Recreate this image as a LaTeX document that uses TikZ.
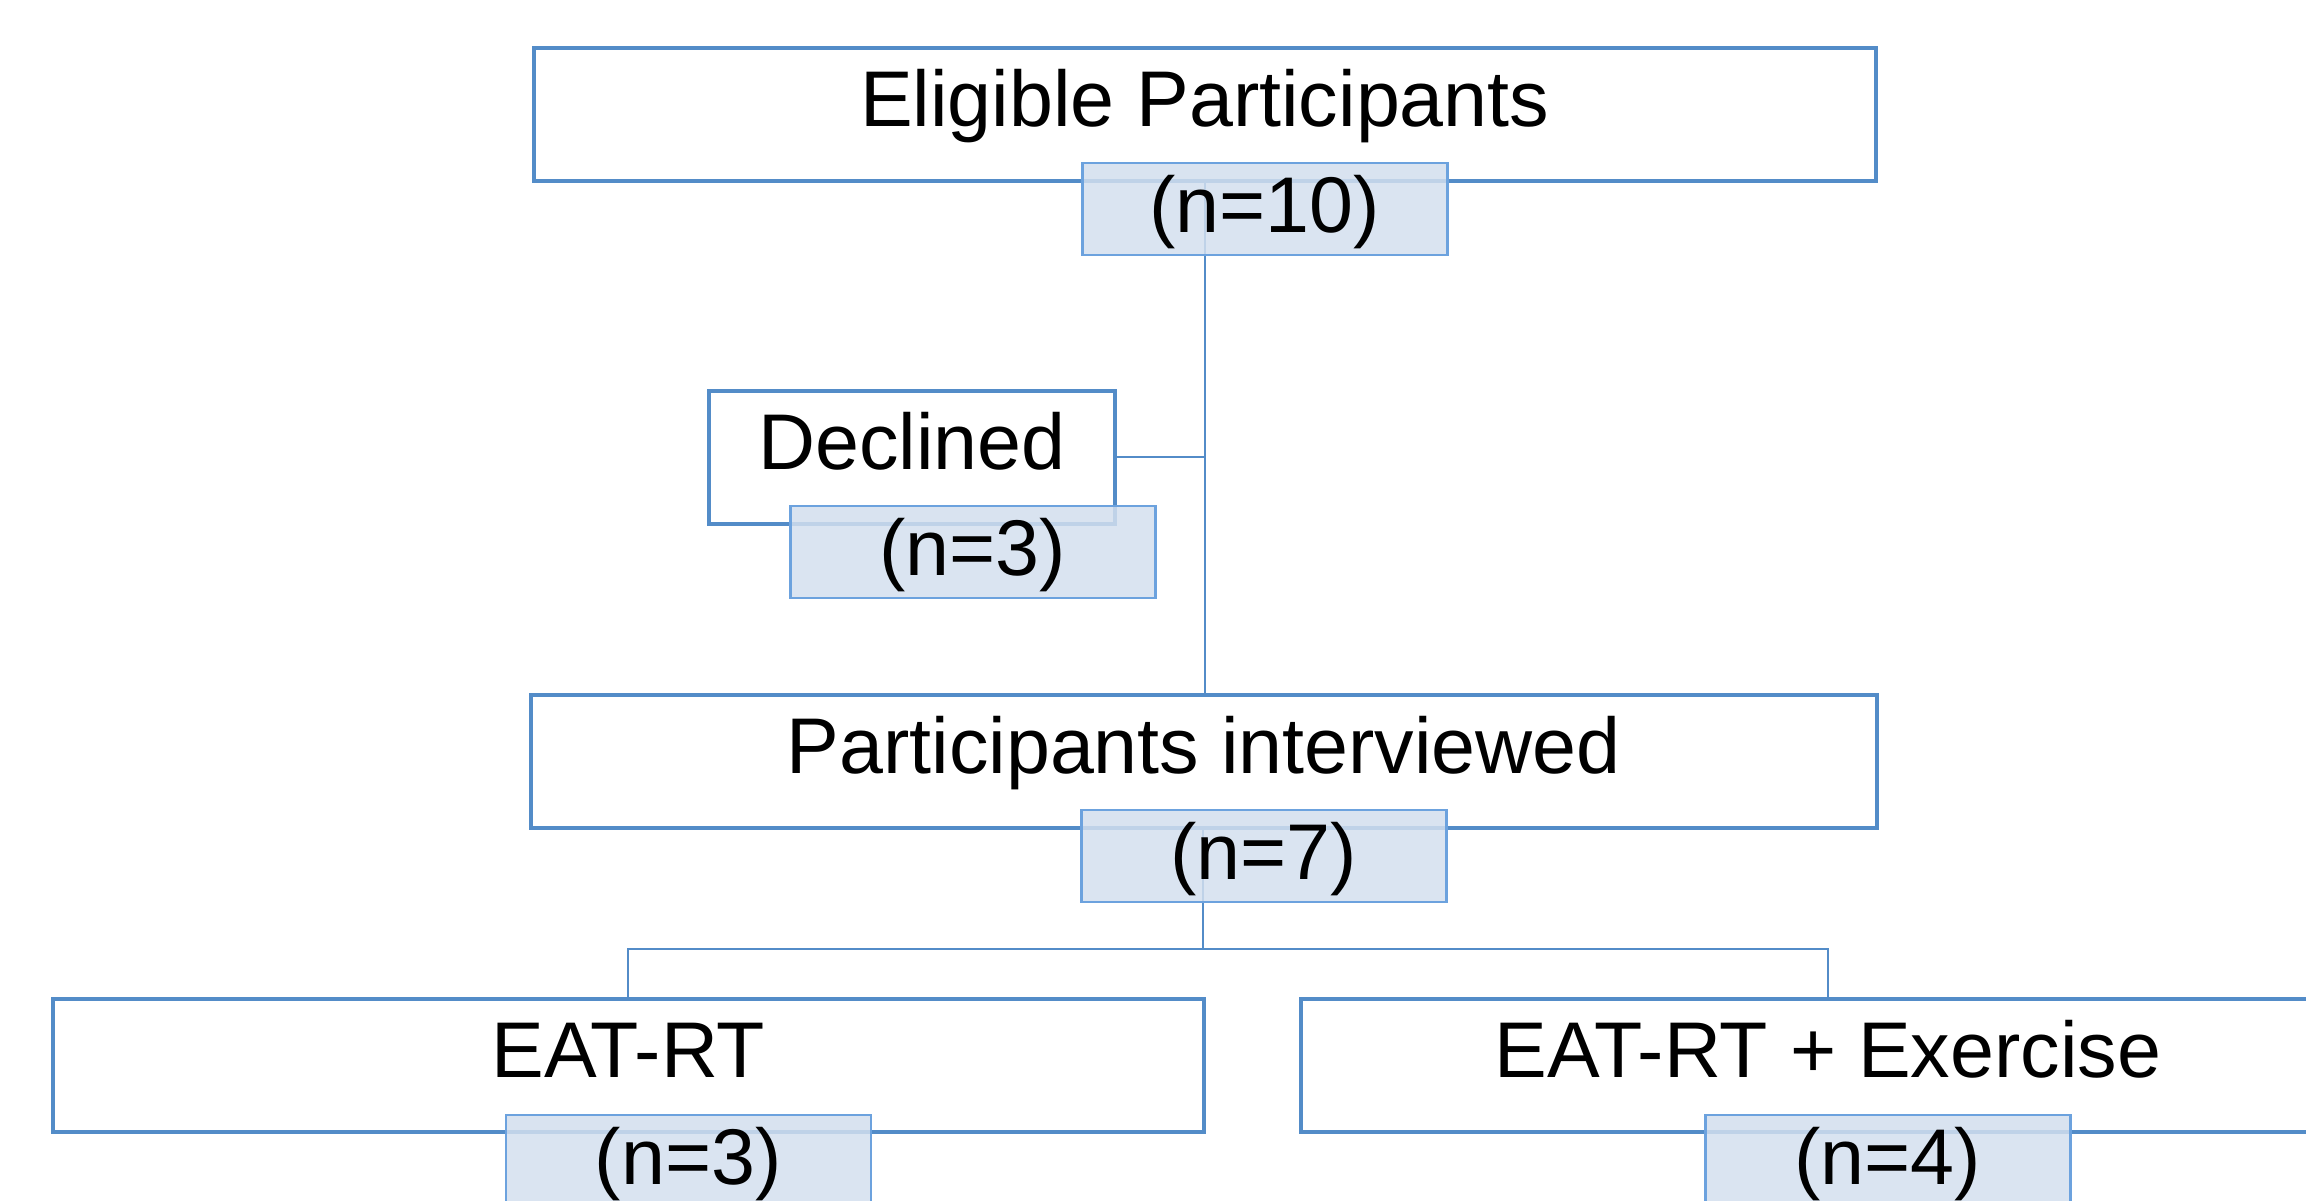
\documentclass[tikz,border=0pt]{standalone}
\usepackage{fontspec}
\setmainfont{Liberation Sans}
\usetikzlibrary{positioning}
\definecolor{boxblue}{RGB}{83,140,200}
\definecolor{countedge}{RGB}{108,162,222}
\definecolor{countfill}{RGB}{211,223,238}
\tikzset{
	stagebox/.style={draw=boxblue,line width=3.5pt,fill=white,inner xsep=0pt,inner ysep=0pt,text height=79pt,text depth=54pt,anchor=north west,font=\fontsize{79}{95}\selectfont},
	countbox/.style={draw=countedge,line width=2.5pt,fill=countfill,fill opacity=0.85,text opacity=1,inner sep=0pt,minimum width=365pt,text height=70pt,text depth=22pt,font=\fontsize{79}{95}\selectfont},
	link/.style={draw=boxblue,line width=2pt}
}
\begin{document}
		\begin{tikzpicture}[x=1pt,y=-1pt]
			\useasboundingbox (0,0) rectangle (2306,1200);
			\clip (0,0) rectangle (2306,1200);
			\node[stagebox,minimum width=1342pt] (elig) at (532,46) {Eligible Participants};
			\node[stagebox,minimum width=406pt] (decl) at (707,389) {Declined};
			\node[stagebox,minimum width=1346pt] (interv) at (529,693) {Participants interviewed};
			\node[stagebox,minimum width=1151pt] (eat) at (51,997) {EAT-RT};
			\node[stagebox,minimum width=1054pt] (eatex) at (1299,997) {EAT-RT + Exercise};
			\coordinate (split) at (1203,949);
			\draw[link] (elig.south) -- (elig.south |- interv.north);
			\draw[link] (decl.east) -- (decl.east -| elig.south);
			\draw[link] (interv.south -| split) -- (split);
			\draw[link] (eat.north) |- (split) -| (eatex.north);
			\node[countbox,below=-21pt of elig.south,xshift=60pt] (nelig) {(n=10)};
			\node[countbox,below=-21pt of decl.south,xshift=61pt] (ndecl) {(n=3)};
			\node[countbox,below=-21pt of interv.south,xshift=60pt] (ninterv) {(n=7)};
			\node[countbox,below=-20pt of eat.south,xshift=60pt] (neat) {(n=3)};
			\node[countbox,below=-20pt of eatex.south,xshift=60pt] (neatex) {(n=4)};
		\end{tikzpicture}
\end{document}
